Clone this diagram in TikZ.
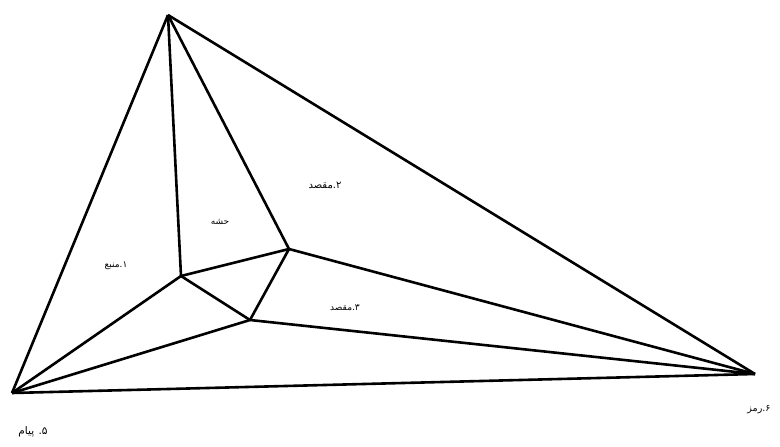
\documentclass[tikz,border=0pt]{standalone}
\usepackage{fontspec}
\newfontfamily\arabicfont[Script=Arabic]{DejaVu Sans}
\TeXXeTstate=1
\begin{document}
\begin{tikzpicture}[x=1pt,y=-1pt,line join=round]
\useasboundingbox (0,0) rectangle (780,447);
\coordinate (top) at (168,15);
\coordinate (left) at (12,393);
\coordinate (right) at (755,374);
\coordinate (p) at (181,276);
\coordinate (q) at (289,249);
\coordinate (r) at (250,320);
\foreach \a/\b in {top/left,top/right,left/right,top/p,top/q,p/q,p/r,q/r,p/left,r/left,q/right,r/right}{\draw[line width=2.6pt] (\a) -- (\b);}
\node[font=\arabicfont\fontsize{9}{11}\selectfont] (source) at (116,266) {\beginR ۱.منبع\endR};
\node[font=\arabicfont\fontsize{9}{11}\selectfont] (margin) at (220,222) {\beginR حشه\endR};
\node[font=\arabicfont\fontsize{10}{12}\selectfont] (dest) at (325,185) {\beginR ۲.مقصد\endR};
\node[font=\arabicfont\fontsize{9}{11}\selectfont] (dest3) at (345,308) {\beginR ۳.مقصد\endR};
\node[font=\arabicfont\fontsize{10.5}{12}\selectfont] (msg) at (33,432) {\beginR ۵. پیام\endR};
\node[font=\arabicfont\fontsize{9.5}{11}\selectfont] (code) at (759,410) {\beginR ۶.رمز\endR};
\end{tikzpicture}
\end{document}
